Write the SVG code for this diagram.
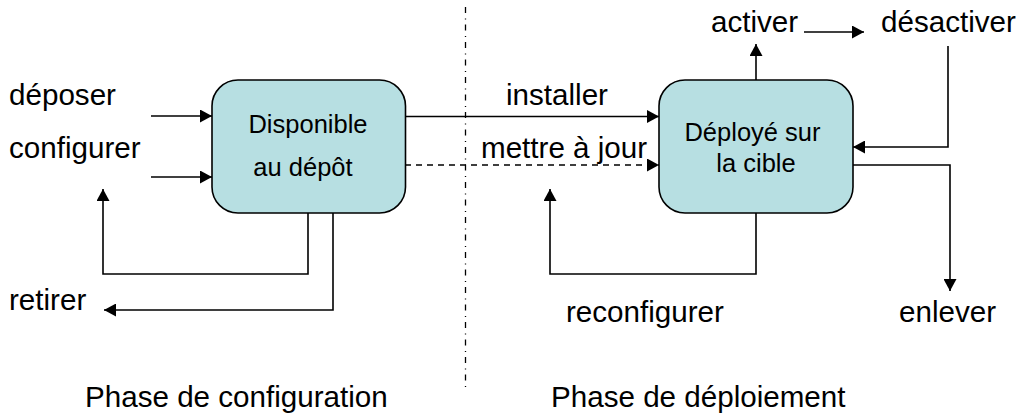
<svg xmlns="http://www.w3.org/2000/svg" width="1019" height="416" viewBox="0 0 1019 416">
<style>
text{font-family:"Liberation Sans",Arial,sans-serif;fill:#000}
.l{font-size:29.6px}
.n{font-size:25.5px;text-anchor:middle}
.c{fill:none;stroke:#000;stroke-width:1.6;marker-end:url(#a)}
.d{stroke-dasharray:6 5}
.box{fill:#b7dfe2;stroke:#000;stroke-width:1.6}
</style>
<defs><marker id="a" markerWidth="13" markerHeight="13" refX="12" refY="6.500" orient="auto" markerUnits="userSpaceOnUse"><path d="M0 0L12 6.500L0 13Z" fill="#000"/></marker></defs>
<rect width="1019" height="416" fill="#fff"/>
<g id="connectors">
<path d="M465.500 7V389" fill="none" stroke="#000" stroke-width="1.300" stroke-dasharray="6 5.500 1 5"/>
<path class="c" d="M151 116H212"/>
<path class="c" d="M151 177H212"/>
<path class="c" d="M308 213V274H103V189"/>
<path class="c" d="M333 213V310H104"/>
<path class="c" d="M405 116.500H659"/>
<path class="c d" d="M405 165H659"/>
<path class="c" d="M756 80V44"/>
<path class="c" d="M804 32H864"/>
<path class="c" d="M948 46V147H853"/>
<path class="c" d="M853 165H950V291"/>
<path class="c" d="M756 213V274H550V189"/>
</g>
<g id="n1"><rect class="box" x="212" y="80" width="193.500" height="133" rx="26"/><text class="n" x="308" y="133">Disponible</text><text class="n" x="303" y="176">au dépôt</text></g>
<g id="n2"><rect class="box" x="659" y="80" width="194" height="133" rx="26"/><text class="n" x="752.500" y="141">Déployé sur</text><text class="n" x="756" y="172">la cible</text></g>
<g id="labels">
<text class="l" x="9" y="105">déposer</text>
<text class="l" x="9" y="158">configurer</text>
<text class="l" x="9" y="310">retirer</text>
<text class="l" x="506" y="105">installer</text>
<text class="l" x="481" y="158">mettre à jour</text>
<text class="l" x="711" y="32">activer</text>
<text class="l" x="881" y="32">désactiver</text>
<text class="l" x="566" y="322">reconfigurer</text>
<text class="l" x="899" y="322">enlever</text>
<text class="l" x="85" y="407">Phase de configuration</text>
<text class="l" x="551" y="407">Phase de déploiement</text>
</g>
</svg>
